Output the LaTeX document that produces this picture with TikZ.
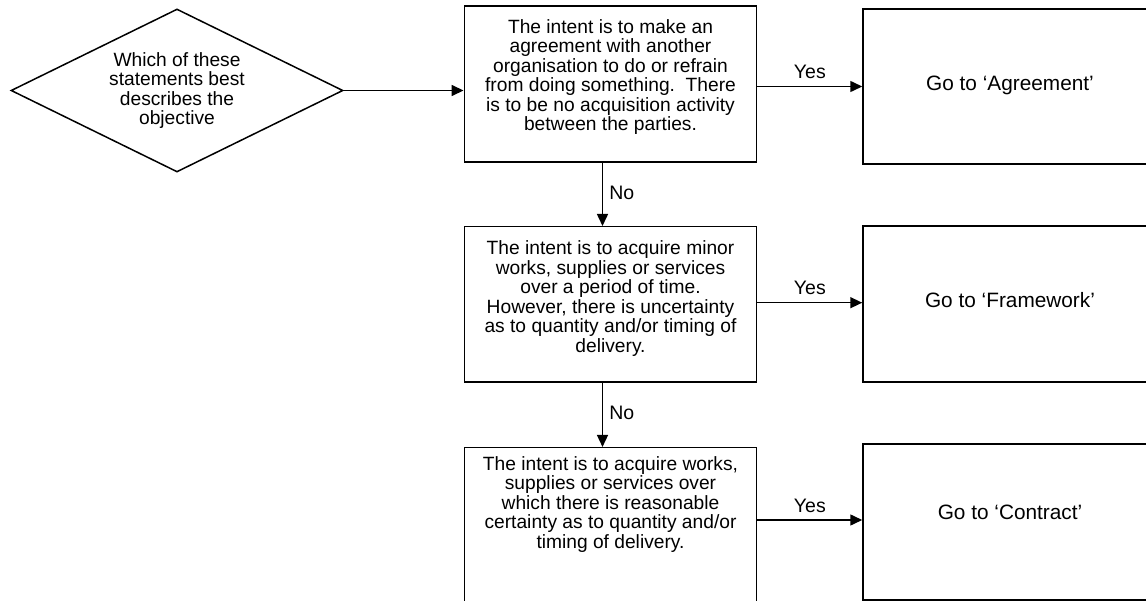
\documentclass[tikz,border=0pt]{standalone}
\usepackage{fontspec}
\setmainfont{Liberation Sans}
\usetikzlibrary{arrows.meta,shapes.geometric}
\begin{document}
\begin{tikzpicture}[x=1pt,y=-1pt,
  box/.style={draw,line width=1.5pt,inner sep=0pt},
  txt/.style={align=center,inner sep=0pt,font=\fontsize{19.2}{19.5}\selectfont},
  gotxt/.style={inner sep=0pt,font=\fontsize{20.8}{22}\selectfont},
  lbl/.style={inner sep=0pt,font=\fontsize{19.5}{20}\selectfont},
  arr/.style={line width=1.5pt,-{Triangle[length=12pt,width=11pt]}}]
\useasboundingbox (0,0) rectangle (1146,601);
% decision
\node[box,diamond,aspect=2.04,minimum width=332pt,minimum height=163pt,txt] (d) at (177,90.5)
  {Which of these\\statements best\\describes the\\objective};
% question boxes
\node[box,minimum width=292.4pt,minimum height=156pt] (b1) at (610.5,84) {};
\node[box,minimum width=292.4pt,minimum height=155.5pt] (b2) at (610.5,304.5) {};
\node[box,minimum width=292.4pt,minimum height=156pt] (b3) at (610.5,525.7) {};
\node[txt] (t1) at (610.5,77) {The intent is to make an\\agreement with another\\organisation to do or refrain\\from doing something.\ \ There\\is to be no acquisition activity\\between the parties.};
\node[txt] (t2) at (610.5,298.5) {The intent is to acquire minor\\works, supplies or services\\over a period of time.\\However, there is uncertainty\\as to quantity and/or timing of\\delivery.};
\node[txt] (t3) at (610.5,504.5) {The intent is to acquire works,\\supplies or services over\\which there is reasonable\\certainty as to quantity and/or\\timing of delivery.};
% result boxes
\node[box,minimum width=297pt,minimum height=155pt] (r1) at (1011.5,86.5) {};
\node[box,minimum width=297pt,minimum height=156pt] (r2) at (1011.5,304) {};
\node[box,minimum width=297pt,minimum height=156pt] (r3) at (1011.5,522) {};
\node[gotxt] (g1) at (1010,85) {Go to ‘Agreement’};
\node[gotxt] (g2) at (1010,300) {Go to ‘Framework’};
\node[gotxt] (g3) at (1010,512) {Go to ‘Contract’};
% connectors
\draw[arr] (d.east) -- (d.east -| b1.west);
\draw[arr] (b1.east |- r1.west) -- node[lbl,above=7pt] (y1) {Yes} (r1.west);
\draw[arr] (b2.east |- 0,302.7) -- node[lbl,above=7pt] (y2) {Yes} (r2.west |- 0,302.7);
\draw[arr] (b3.east |- 0,520) -- node[lbl,above=7pt] (y3) {Yes} (r3.west |- 0,520);
\draw[arr] ([xshift=-8pt]b1.south) -- node[lbl,right=6pt,pos=0.47] (n1) {No} ([xshift=-8pt]b2.north);
\draw[arr] ([xshift=-8pt]b2.south) -- node[lbl,right=6pt,pos=0.47] (n2) {No} ([xshift=-8pt]b3.north);
\end{tikzpicture}
\end{document}
